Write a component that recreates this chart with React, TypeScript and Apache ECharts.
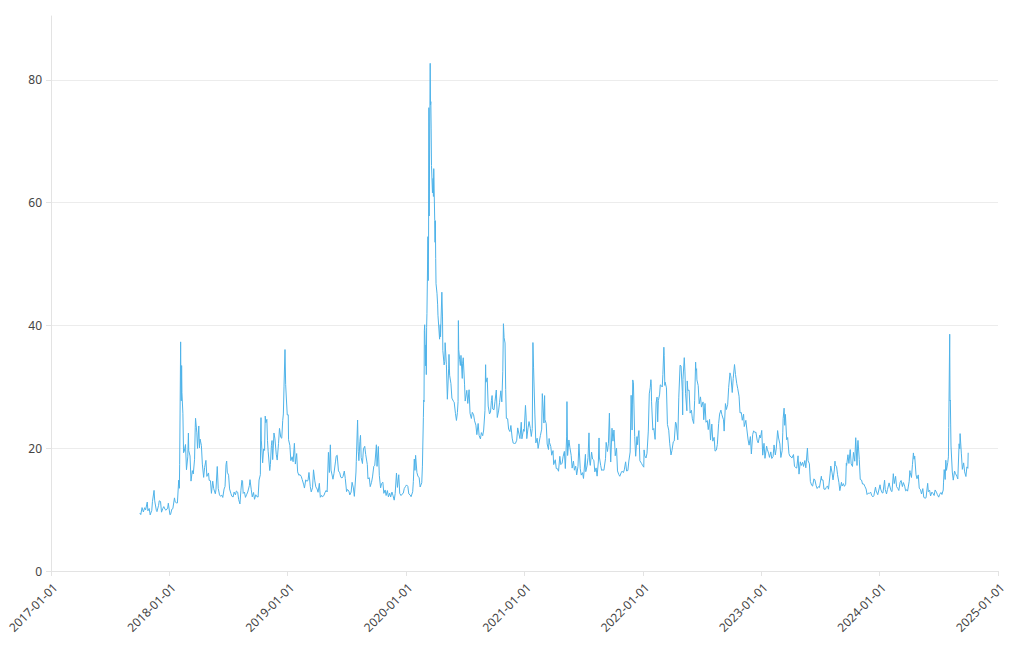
import React, { useEffect, useRef } from "react";
import * as echarts from "echarts";

type Pt = [string, number];

const vix2017: Pt[] = [
  ["2017-10-02", 9.45], ["2017-10-05", 9.19], ["2017-10-09", 10.33], ["2017-10-13", 9.61], ["2017-10-17", 10.31],
  ["2017-10-20", 9.97], ["2017-10-25", 11.23], ["2017-10-27", 9.8], ["2017-10-31", 10.18], ["2017-11-03", 9.14],
  ["2017-11-08", 9.89], ["2017-11-10", 11.29], ["2017-11-15", 13.13], ["2017-11-17", 11.43], ["2017-11-22", 9.88],
  ["2017-11-24", 9.67], ["2017-11-29", 10.7], ["2017-12-01", 11.43], ["2017-12-05", 11.33], ["2017-12-08", 9.58],
  ["2017-12-12", 10.18], ["2017-12-15", 10.49], ["2017-12-19", 10.03], ["2017-12-22", 9.9], ["2017-12-27", 10.25],
  ["2017-12-29", 11.04],
];

const vix2018: Pt[] = [
  ["2018-01-03", 9.15], ["2018-01-05", 9.22], ["2018-01-09", 10.08], ["2018-01-12", 10.16], ["2018-01-17", 11.91],
  ["2018-01-19", 11.27], ["2018-01-23", 11.1], ["2018-01-26", 11.08], ["2018-01-29", 13.84], ["2018-01-30", 14.79],
  ["2018-02-01", 13.47], ["2018-02-02", 17.31], ["2018-02-05", 37.32], ["2018-02-06", 29.98], ["2018-02-07", 27.73],
  ["2018-02-08", 33.46], ["2018-02-09", 29.06], ["2018-02-12", 25.61], ["2018-02-14", 19.26], ["2018-02-16", 19.46],
  ["2018-02-20", 20.6], ["2018-02-23", 16.49], ["2018-02-27", 18.59], ["2018-03-01", 22.47], ["2018-03-02", 19.59],
  ["2018-03-06", 18.73], ["2018-03-09", 14.64], ["2018-03-13", 16.35], ["2018-03-16", 15.8], ["2018-03-20", 18.2],
  ["2018-03-22", 23.34], ["2018-03-23", 24.87], ["2018-03-27", 22.5], ["2018-03-29", 19.97], ["2018-04-02", 23.62],
  ["2018-04-04", 20.06], ["2018-04-06", 21.49], ["2018-04-10", 20.47], ["2018-04-13", 17.41], ["2018-04-17", 15.25],
  ["2018-04-20", 16.88], ["2018-04-24", 18.02], ["2018-04-27", 15.41], ["2018-05-02", 15.97], ["2018-05-04", 14.77],
  ["2018-05-08", 14.71], ["2018-05-11", 12.65], ["2018-05-15", 14.63], ["2018-05-18", 13.42], ["2018-05-23", 12.58],
  ["2018-05-25", 13.22], ["2018-05-29", 17.02], ["2018-06-01", 13.46], ["2018-06-05", 12.4], ["2018-06-08", 12.18],
  ["2018-06-12", 12.35], ["2018-06-15", 11.98], ["2018-06-19", 13.35], ["2018-06-22", 13.77], ["2018-06-25", 17.33],
  ["2018-06-27", 17.91], ["2018-06-29", 16.09], ["2018-07-03", 15.6], ["2018-07-06", 13.37], ["2018-07-10", 12.64],
  ["2018-07-13", 12.18], ["2018-07-17", 12.06], ["2018-07-20", 12.86], ["2018-07-24", 12.41], ["2018-07-27", 13.03],
  ["2018-07-31", 12.83], ["2018-08-03", 11.64], ["2018-08-07", 10.93], ["2018-08-10", 13.16], ["2018-08-13", 14.78],
  ["2018-08-15", 14.64], ["2018-08-17", 12.64], ["2018-08-21", 12.86], ["2018-08-24", 11.99], ["2018-08-28", 12.5],
  ["2018-08-31", 12.86], ["2018-09-05", 13.91], ["2018-09-07", 14.88], ["2018-09-11", 13.22], ["2018-09-14", 12.07],
  ["2018-09-18", 12.79], ["2018-09-21", 11.68], ["2018-09-25", 12.42], ["2018-09-28", 12.12], ["2018-10-02", 12.05],
  ["2018-10-05", 14.82], ["2018-10-09", 15.69], ["2018-10-10", 22.96], ["2018-10-11", 24.98], ["2018-10-12", 21.31],
  ["2018-10-16", 17.62], ["2018-10-19", 19.89], ["2018-10-22", 19.64], ["2018-10-24", 25.23], ["2018-10-26", 24.16],
  ["2018-10-29", 24.7], ["2018-10-31", 21.23], ["2018-11-02", 19.51], ["2018-11-07", 16.36], ["2018-11-09", 17.36],
  ["2018-11-12", 20.45], ["2018-11-14", 21.25], ["2018-11-16", 18.14], ["2018-11-20", 22.48], ["2018-11-23", 21.52],
  ["2018-11-27", 19.02], ["2018-11-30", 18.07], ["2018-12-04", 20.74], ["2018-12-07", 23.23], ["2018-12-11", 21.76],
  ["2018-12-14", 21.63], ["2018-12-17", 24.52], ["2018-12-19", 25.58], ["2018-12-21", 30.11], ["2018-12-24", 36.07],
  ["2018-12-26", 30.41], ["2018-12-28", 28.34], ["2018-12-31", 25.42],
];

const vix2019: Pt[] = [
  ["2019-01-03", 25.45], ["2019-01-04", 21.38], ["2019-01-08", 20.47], ["2019-01-11", 17.97], ["2019-01-15", 18.6],
  ["2019-01-18", 17.8], ["2019-01-22", 20.8], ["2019-01-25", 17.42], ["2019-01-29", 19.13], ["2019-02-01", 16.14],
  ["2019-02-05", 15.57], ["2019-02-08", 15.72], ["2019-02-12", 15.43], ["2019-02-15", 14.91], ["2019-02-20", 14.02],
  ["2019-02-22", 13.51], ["2019-02-26", 14.85], ["2019-03-01", 14.63], ["2019-03-05", 14.74], ["2019-03-08", 16.05],
  ["2019-03-12", 13.77], ["2019-03-15", 12.88], ["2019-03-19", 13.56], ["2019-03-22", 16.48], ["2019-03-26", 14.68],
  ["2019-03-29", 13.71], ["2019-04-02", 13.36], ["2019-04-05", 12.82], ["2019-04-09", 14.28], ["2019-04-12", 12.01],
  ["2019-04-16", 12.32], ["2019-04-18", 12.09], ["2019-04-23", 12.28], ["2019-04-26", 12.73], ["2019-04-30", 13.12],
  ["2019-05-03", 12.87], ["2019-05-07", 19.32], ["2019-05-10", 16.04], ["2019-05-13", 20.55], ["2019-05-15", 16.44],
  ["2019-05-17", 15.96], ["2019-05-21", 14.95], ["2019-05-24", 15.85], ["2019-05-29", 17.9], ["2019-05-31", 18.71],
  ["2019-06-03", 18.86], ["2019-06-07", 16.3], ["2019-06-11", 15.99], ["2019-06-14", 15.28], ["2019-06-18", 15.15],
  ["2019-06-21", 15.4], ["2019-06-25", 16.28], ["2019-06-28", 15.08], ["2019-07-02", 12.93], ["2019-07-05", 13.28],
  ["2019-07-09", 13.03], ["2019-07-12", 12.39], ["2019-07-16", 12.86], ["2019-07-19", 14.45], ["2019-07-23", 13.53],
  ["2019-07-26", 12.16], ["2019-07-31", 16.12], ["2019-08-01", 17.87], ["2019-08-05", 24.59], ["2019-08-07", 19.49],
  ["2019-08-09", 17.97], ["2019-08-12", 21.09], ["2019-08-14", 22.1], ["2019-08-16", 18.47], ["2019-08-20", 17.5],
  ["2019-08-23", 19.87], ["2019-08-27", 20.31], ["2019-08-30", 18.98], ["2019-09-04", 17.33], ["2019-09-06", 15.0],
  ["2019-09-10", 15.2], ["2019-09-13", 13.74], ["2019-09-17", 14.44], ["2019-09-20", 15.32], ["2019-09-24", 17.05],
  ["2019-09-27", 17.22], ["2019-10-02", 20.56], ["2019-10-04", 17.04], ["2019-10-08", 20.28], ["2019-10-11", 15.58],
  ["2019-10-15", 13.54], ["2019-10-18", 14.25], ["2019-10-22", 14.46], ["2019-10-25", 12.65], ["2019-10-29", 13.2],
  ["2019-11-01", 12.3], ["2019-11-05", 13.1], ["2019-11-08", 12.07], ["2019-11-12", 12.68], ["2019-11-15", 12.05],
  ["2019-11-19", 12.86], ["2019-11-22", 12.34], ["2019-11-26", 11.54], ["2019-11-29", 12.62], ["2019-12-03", 15.96],
  ["2019-12-06", 13.62], ["2019-12-10", 15.68], ["2019-12-13", 12.63], ["2019-12-17", 12.29], ["2019-12-20", 12.51],
  ["2019-12-24", 12.67], ["2019-12-27", 13.43], ["2019-12-31", 13.78],
];

const vix2020: Pt[] = [
  ["2020-01-03", 14.02], ["2020-01-07", 13.79], ["2020-01-10", 12.56], ["2020-01-14", 12.39], ["2020-01-17", 12.1],
  ["2020-01-22", 12.91], ["2020-01-24", 14.56], ["2020-01-27", 18.23], ["2020-01-29", 16.39], ["2020-01-31", 18.84],
  ["2020-02-04", 16.05], ["2020-02-07", 15.47], ["2020-02-11", 15.18], ["2020-02-14", 13.68], ["2020-02-19", 14.38],
  ["2020-02-21", 17.08], ["2020-02-24", 25.03], ["2020-02-25", 27.85], ["2020-02-26", 27.56], ["2020-02-27", 39.16],
  ["2020-02-28", 40.11], ["2020-03-02", 33.42], ["2020-03-03", 36.82], ["2020-03-04", 31.99], ["2020-03-05", 39.62],
  ["2020-03-06", 41.94], ["2020-03-09", 54.46], ["2020-03-10", 47.3], ["2020-03-11", 53.9], ["2020-03-12", 75.47],
  ["2020-03-13", 57.83], ["2020-03-16", 82.69], ["2020-03-17", 75.91], ["2020-03-18", 76.45], ["2020-03-19", 72.0],
  ["2020-03-20", 66.04], ["2020-03-23", 61.59], ["2020-03-24", 61.67], ["2020-03-25", 63.95], ["2020-03-26", 61.0],
  ["2020-03-27", 65.54], ["2020-03-30", 57.08], ["2020-03-31", 53.54], ["2020-04-01", 57.06], ["2020-04-02", 50.91],
  ["2020-04-03", 46.8], ["2020-04-06", 45.24], ["2020-04-08", 43.35], ["2020-04-09", 41.67], ["2020-04-14", 37.76],
  ["2020-04-16", 40.11], ["2020-04-17", 38.15], ["2020-04-21", 45.41], ["2020-04-23", 41.38], ["2020-04-24", 35.93],
  ["2020-04-28", 33.57], ["2020-04-30", 34.15], ["2020-05-01", 37.19], ["2020-05-05", 33.61], ["2020-05-08", 27.98],
  ["2020-05-12", 33.04], ["2020-05-13", 35.28], ["2020-05-15", 31.89], ["2020-05-19", 30.53], ["2020-05-22", 28.16],
  ["2020-05-27", 27.62], ["2020-05-29", 27.51], ["2020-06-02", 25.66], ["2020-06-05", 24.52], ["2020-06-08", 25.81],
  ["2020-06-10", 27.57], ["2020-06-11", 40.79], ["2020-06-12", 36.09], ["2020-06-15", 34.4], ["2020-06-17", 33.47],
  ["2020-06-19", 35.12], ["2020-06-23", 31.37], ["2020-06-24", 33.84], ["2020-06-26", 34.73], ["2020-06-30", 30.43],
  ["2020-07-02", 27.68], ["2020-07-07", 29.43], ["2020-07-10", 27.29], ["2020-07-14", 29.52], ["2020-07-17", 25.68],
  ["2020-07-21", 24.84], ["2020-07-24", 25.84], ["2020-07-28", 25.44], ["2020-07-31", 24.46], ["2020-08-04", 23.76],
  ["2020-08-07", 22.21], ["2020-08-11", 24.03], ["2020-08-14", 22.05], ["2020-08-18", 21.51], ["2020-08-21", 22.54],
  ["2020-08-25", 22.03], ["2020-08-28", 22.96], ["2020-09-01", 26.12], ["2020-09-03", 33.6], ["2020-09-04", 30.75],
  ["2020-09-08", 31.46], ["2020-09-11", 26.87], ["2020-09-15", 25.59], ["2020-09-18", 25.83], ["2020-09-21", 27.78],
  ["2020-09-23", 28.58], ["2020-09-25", 26.38], ["2020-09-29", 26.27], ["2020-10-02", 27.63], ["2020-10-06", 29.48],
  ["2020-10-09", 25.0], ["2020-10-13", 26.07], ["2020-10-16", 27.41], ["2020-10-20", 29.35], ["2020-10-23", 27.55],
  ["2020-10-26", 32.46], ["2020-10-28", 40.28], ["2020-10-30", 38.02], ["2020-11-02", 37.13], ["2020-11-04", 29.57],
  ["2020-11-06", 24.86], ["2020-11-10", 24.8], ["2020-11-13", 23.1], ["2020-11-17", 22.71], ["2020-11-20", 23.7],
  ["2020-11-24", 21.64], ["2020-11-27", 20.84], ["2020-12-01", 20.77], ["2020-12-04", 20.79], ["2020-12-08", 21.3],
  ["2020-12-11", 23.31], ["2020-12-15", 22.29], ["2020-12-18", 21.57], ["2020-12-22", 24.23], ["2020-12-24", 21.53],
  ["2020-12-29", 23.08], ["2020-12-31", 22.75],
];

const vix2021: Pt[] = [
  ["2021-01-04", 26.97], ["2021-01-06", 25.07], ["2021-01-08", 21.56], ["2021-01-12", 23.33], ["2021-01-15", 24.34],
  ["2021-01-19", 23.24], ["2021-01-22", 21.91], ["2021-01-25", 23.19], ["2021-01-27", 37.21], ["2021-01-29", 33.09],
  ["2021-02-02", 25.56], ["2021-02-05", 20.87], ["2021-02-09", 21.63], ["2021-02-12", 19.97], ["2021-02-17", 21.5],
  ["2021-02-19", 22.05], ["2021-02-23", 23.11], ["2021-02-25", 28.89], ["2021-02-26", 27.95], ["2021-03-02", 24.1],
  ["2021-03-04", 28.57], ["2021-03-05", 24.66], ["2021-03-09", 24.03], ["2021-03-12", 20.69], ["2021-03-16", 19.79],
  ["2021-03-18", 21.58], ["2021-03-19", 20.95], ["2021-03-23", 20.3], ["2021-03-26", 18.86], ["2021-03-30", 19.61],
  ["2021-04-01", 17.33], ["2021-04-06", 18.12], ["2021-04-09", 16.69], ["2021-04-13", 16.65], ["2021-04-16", 16.25],
  ["2021-04-20", 18.68], ["2021-04-23", 17.33], ["2021-04-27", 17.56], ["2021-04-30", 18.61], ["2021-05-04", 19.48],
  ["2021-05-07", 16.69], ["2021-05-11", 21.84], ["2021-05-12", 27.59], ["2021-05-14", 18.81], ["2021-05-18", 21.34],
  ["2021-05-21", 20.15], ["2021-05-25", 18.84], ["2021-05-28", 16.76], ["2021-06-01", 17.9], ["2021-06-04", 16.42],
  ["2021-06-08", 17.07], ["2021-06-11", 15.65], ["2021-06-15", 17.02], ["2021-06-18", 20.7], ["2021-06-22", 16.66],
  ["2021-06-25", 15.62], ["2021-06-29", 16.02], ["2021-07-02", 15.07], ["2021-07-08", 19.0], ["2021-07-09", 16.18],
  ["2021-07-13", 17.12], ["2021-07-16", 18.45], ["2021-07-19", 22.5], ["2021-07-21", 17.91], ["2021-07-23", 17.2],
  ["2021-07-27", 19.36], ["2021-07-30", 18.24], ["2021-08-03", 18.04], ["2021-08-06", 16.15], ["2021-08-10", 16.79],
  ["2021-08-13", 15.45], ["2021-08-17", 17.91], ["2021-08-19", 21.67], ["2021-08-20", 18.56], ["2021-08-24", 17.22],
  ["2021-08-27", 16.39], ["2021-08-31", 16.48], ["2021-09-03", 16.41], ["2021-09-08", 18.31], ["2021-09-10", 20.95],
  ["2021-09-14", 19.46], ["2021-09-17", 20.81], ["2021-09-20", 25.71], ["2021-09-22", 20.87], ["2021-09-24", 17.75],
  ["2021-09-28", 23.25], ["2021-10-01", 21.15], ["2021-10-04", 22.96], ["2021-10-06", 21.0], ["2021-10-08", 18.77],
  ["2021-10-12", 20.0], ["2021-10-15", 16.3], ["2021-10-19", 15.7], ["2021-10-22", 15.43], ["2021-10-26", 15.98],
  ["2021-10-29", 16.26], ["2021-11-02", 16.03], ["2021-11-05", 16.48], ["2021-11-09", 17.78], ["2021-11-12", 16.29],
  ["2021-11-16", 16.37], ["2021-11-19", 17.91], ["2021-11-23", 19.38], ["2021-11-26", 28.62], ["2021-11-29", 22.96],
  ["2021-11-30", 27.19], ["2021-12-01", 31.12], ["2021-12-03", 30.67], ["2021-12-07", 21.89], ["2021-12-10", 18.69],
  ["2021-12-14", 21.89], ["2021-12-16", 20.57], ["2021-12-17", 21.57], ["2021-12-20", 22.87], ["2021-12-23", 17.96],
  ["2021-12-28", 17.54], ["2021-12-31", 17.22],
];

const vix2022: Pt[] = [
  ["2022-01-04", 16.91], ["2022-01-05", 19.73], ["2022-01-07", 18.76], ["2022-01-11", 18.41], ["2022-01-14", 19.19],
  ["2022-01-18", 22.79], ["2022-01-21", 28.85], ["2022-01-24", 29.9], ["2022-01-26", 31.16], ["2022-01-27", 30.49],
  ["2022-01-28", 27.66], ["2022-02-01", 22.96], ["2022-02-04", 23.22], ["2022-02-08", 21.44], ["2022-02-11", 27.36],
  ["2022-02-14", 28.33], ["2022-02-16", 24.29], ["2022-02-18", 27.75], ["2022-02-22", 28.81], ["2022-02-24", 30.32],
  ["2022-02-28", 30.15], ["2022-03-02", 29.98], ["2022-03-04", 31.98], ["2022-03-07", 36.45], ["2022-03-08", 35.13],
  ["2022-03-10", 30.23], ["2022-03-11", 30.75], ["2022-03-15", 29.83], ["2022-03-18", 23.87], ["2022-03-22", 22.94],
  ["2022-03-25", 20.81], ["2022-03-29", 18.9], ["2022-04-01", 19.63], ["2022-04-05", 21.03], ["2022-04-08", 21.16],
  ["2022-04-12", 24.26], ["2022-04-14", 24.05], ["2022-04-19", 21.37], ["2022-04-22", 28.21], ["2022-04-26", 33.52],
  ["2022-04-29", 33.4], ["2022-05-03", 29.25], ["2022-05-04", 25.42], ["2022-05-05", 31.2], ["2022-05-09", 34.75],
  ["2022-05-11", 32.56], ["2022-05-13", 28.87], ["2022-05-17", 26.1], ["2022-05-18", 30.96], ["2022-05-20", 29.43],
  ["2022-05-24", 29.45], ["2022-05-27", 25.72], ["2022-05-31", 26.19], ["2022-06-03", 24.79], ["2022-06-07", 24.02],
  ["2022-06-10", 27.75], ["2022-06-13", 34.02], ["2022-06-14", 32.69], ["2022-06-16", 32.95], ["2022-06-17", 31.13],
  ["2022-06-21", 30.19], ["2022-06-24", 27.23], ["2022-06-28", 28.36], ["2022-07-01", 26.7], ["2022-07-06", 27.54],
  ["2022-07-08", 24.64], ["2022-07-12", 27.29], ["2022-07-15", 24.23], ["2022-07-19", 24.5], ["2022-07-22", 23.03],
  ["2022-07-26", 24.69], ["2022-07-29", 21.33], ["2022-08-02", 23.93], ["2022-08-05", 21.15], ["2022-08-09", 21.77],
  ["2022-08-12", 19.53], ["2022-08-16", 19.69], ["2022-08-19", 20.6], ["2022-08-23", 24.0], ["2022-08-26", 25.56],
  ["2022-08-30", 26.21], ["2022-09-02", 25.47], ["2022-09-07", 24.64], ["2022-09-09", 22.79], ["2022-09-13", 27.27],
  ["2022-09-16", 26.3], ["2022-09-20", 27.16], ["2022-09-23", 29.92], ["2022-09-27", 32.27], ["2022-09-29", 31.84],
  ["2022-09-30", 31.62], ["2022-10-04", 29.07], ["2022-10-07", 31.36], ["2022-10-11", 33.63], ["2022-10-12", 33.57],
  ["2022-10-14", 32.02], ["2022-10-18", 30.5], ["2022-10-21", 29.69], ["2022-10-25", 28.46], ["2022-10-28", 25.75],
  ["2022-11-01", 25.81], ["2022-11-04", 24.55], ["2022-11-08", 25.54], ["2022-11-10", 23.53], ["2022-11-15", 24.54],
  ["2022-11-18", 23.12], ["2022-11-22", 21.35], ["2022-11-25", 20.5], ["2022-11-29", 21.89], ["2022-12-02", 19.06],
  ["2022-12-06", 22.21], ["2022-12-09", 22.83], ["2022-12-13", 22.55], ["2022-12-16", 22.62], ["2022-12-20", 21.29],
  ["2022-12-23", 20.87], ["2022-12-28", 22.14], ["2022-12-30", 21.67],
];

const vix2023: Pt[] = [
  ["2023-01-03", 22.9], ["2023-01-06", 18.87], ["2023-01-10", 20.8], ["2023-01-13", 18.35], ["2023-01-18", 20.34],
  ["2023-01-20", 19.85], ["2023-01-24", 19.2], ["2023-01-27", 18.51], ["2023-01-31", 19.4], ["2023-02-03", 18.33],
  ["2023-02-07", 18.66], ["2023-02-10", 20.53], ["2023-02-14", 18.91], ["2023-02-17", 20.02], ["2023-02-21", 22.87],
  ["2023-02-24", 21.67], ["2023-02-28", 20.7], ["2023-03-03", 18.49], ["2023-03-07", 19.59], ["2023-03-09", 22.61],
  ["2023-03-10", 24.8], ["2023-03-13", 26.52], ["2023-03-15", 23.73], ["2023-03-17", 25.51], ["2023-03-21", 21.38],
  ["2023-03-24", 21.74], ["2023-03-28", 19.12], ["2023-03-31", 18.7], ["2023-04-04", 18.58], ["2023-04-06", 18.4],
  ["2023-04-11", 18.97], ["2023-04-14", 17.07], ["2023-04-18", 16.83], ["2023-04-21", 16.77], ["2023-04-25", 18.76],
  ["2023-04-28", 15.78], ["2023-05-02", 17.78], ["2023-05-05", 17.19], ["2023-05-09", 17.71], ["2023-05-12", 17.03],
  ["2023-05-16", 17.99], ["2023-05-19", 16.81], ["2023-05-24", 20.03], ["2023-05-26", 17.95], ["2023-05-30", 17.46],
  ["2023-06-02", 14.6], ["2023-06-06", 13.96], ["2023-06-09", 13.83], ["2023-06-13", 15.01], ["2023-06-16", 14.84],
  ["2023-06-20", 13.88], ["2023-06-23", 13.44], ["2023-06-27", 13.74], ["2023-06-30", 13.59], ["2023-07-06", 15.44],
  ["2023-07-07", 14.83], ["2023-07-11", 14.84], ["2023-07-14", 13.34], ["2023-07-18", 13.3], ["2023-07-21", 13.6],
  ["2023-07-25", 13.86], ["2023-07-28", 13.33], ["2023-08-02", 15.82], ["2023-08-04", 17.1], ["2023-08-08", 15.99],
  ["2023-08-11", 14.84], ["2023-08-15", 16.46], ["2023-08-17", 17.89], ["2023-08-18", 17.3], ["2023-08-22", 16.97],
  ["2023-08-25", 15.68], ["2023-08-29", 14.45], ["2023-09-01", 13.09], ["2023-09-06", 14.45], ["2023-09-08", 13.84],
  ["2023-09-12", 14.23], ["2023-09-15", 13.79], ["2023-09-19", 14.11], ["2023-09-21", 17.54], ["2023-09-22", 17.2],
  ["2023-09-26", 18.94], ["2023-09-29", 17.52], ["2023-10-03", 19.78], ["2023-10-06", 17.45], ["2023-10-10", 17.03],
  ["2023-10-13", 19.32], ["2023-10-17", 17.88], ["2023-10-20", 21.71], ["2023-10-24", 17.19], ["2023-10-26", 20.68],
  ["2023-10-27", 21.27], ["2023-10-31", 18.14], ["2023-11-03", 14.91], ["2023-11-07", 14.81], ["2023-11-10", 14.17],
  ["2023-11-14", 14.16], ["2023-11-17", 13.8], ["2023-11-21", 13.35], ["2023-11-24", 12.46], ["2023-11-28", 12.69],
  ["2023-12-01", 12.63], ["2023-12-05", 12.85], ["2023-12-08", 12.35], ["2023-12-12", 12.07], ["2023-12-15", 12.28],
  ["2023-12-20", 13.67], ["2023-12-22", 13.03], ["2023-12-27", 12.43], ["2023-12-29", 12.45],
];

const vix2024: Pt[] = [
  ["2024-01-03", 14.04], ["2024-01-05", 13.35], ["2024-01-09", 12.76], ["2024-01-12", 12.7], ["2024-01-17", 14.79],
  ["2024-01-19", 13.3], ["2024-01-23", 12.55], ["2024-01-26", 13.26], ["2024-01-31", 14.35], ["2024-02-02", 13.85],
  ["2024-02-06", 13.06], ["2024-02-09", 12.93], ["2024-02-13", 15.85], ["2024-02-16", 14.24], ["2024-02-20", 15.42],
  ["2024-02-23", 13.75], ["2024-02-27", 13.43], ["2024-03-01", 13.11], ["2024-03-05", 14.46], ["2024-03-08", 14.74],
  ["2024-03-12", 13.75], ["2024-03-15", 14.41], ["2024-03-19", 13.82], ["2024-03-22", 13.06], ["2024-03-26", 13.24],
  ["2024-03-28", 13.01], ["2024-04-02", 14.61], ["2024-04-04", 16.35], ["2024-04-05", 16.03], ["2024-04-09", 15.23],
  ["2024-04-12", 17.31], ["2024-04-15", 19.23], ["2024-04-17", 18.21], ["2024-04-19", 18.71], ["2024-04-23", 15.69],
  ["2024-04-26", 15.03], ["2024-04-30", 15.65], ["2024-05-03", 13.49], ["2024-05-07", 13.23], ["2024-05-10", 12.55],
  ["2024-05-14", 13.42], ["2024-05-17", 11.99], ["2024-05-21", 11.86], ["2024-05-24", 11.93], ["2024-05-29", 14.28],
  ["2024-05-31", 12.92], ["2024-06-04", 13.16], ["2024-06-07", 12.22], ["2024-06-11", 12.85], ["2024-06-14", 12.66],
  ["2024-06-18", 12.3], ["2024-06-21", 13.2], ["2024-06-25", 12.84], ["2024-06-28", 12.44], ["2024-07-02", 12.03],
  ["2024-07-05", 12.48], ["2024-07-09", 12.79], ["2024-07-12", 12.46], ["2024-07-16", 13.19], ["2024-07-17", 14.48],
  ["2024-07-19", 16.52], ["2024-07-22", 14.91], ["2024-07-24", 18.04], ["2024-07-26", 16.39], ["2024-07-30", 17.69],
  ["2024-08-01", 18.59], ["2024-08-02", 23.39], ["2024-08-05", 38.57], ["2024-08-06", 27.71], ["2024-08-07", 27.85],
  ["2024-08-08", 23.79], ["2024-08-09", 20.37], ["2024-08-13", 16.12], ["2024-08-16", 14.8], ["2024-08-20", 16.27],
  ["2024-08-23", 15.86], ["2024-08-27", 15.43], ["2024-08-30", 15.0], ["2024-09-03", 20.72], ["2024-09-05", 19.9],
  ["2024-09-06", 22.38], ["2024-09-10", 19.08], ["2024-09-13", 16.56], ["2024-09-17", 17.61], ["2024-09-20", 16.15],
  ["2024-09-24", 15.39], ["2024-09-27", 16.96], ["2024-09-30", 16.73], ["2024-10-01", 19.26],
];

const xMin = "2017-01-01";
const xMax = "2025-01-01";
const yMin = 0;
const yMax = 90.4;
const yStep = 20;

const GRID_COLOR = "#ececec";
const AXIS_COLOR = "#e3e3e3";
const LABEL_COLOR = "#444";
const LINE_COLOR = "#4fb3e9";

export default function App() {
  const ref = useRef<HTMLDivElement>(null);

  useEffect(() => {
    if (!ref.current) return;
    const chart = echarts.init(ref.current, undefined, { renderer: "svg" });
    const data = [...vix2017, ...vix2018, ...vix2019, ...vix2020, ...vix2021, ...vix2022, ...vix2023, ...vix2024];
    const DAY = 86400000;
    chart.setOption({
      animation: false,
      textStyle: { fontFamily: "Noto Sans" },
      grid: { left: 51, right: 22, top: 16, bottom: 79, containLabel: false },
      xAxis: {
        type: "time",
        min: xMin,
        max: xMax,
        splitNumber: 8,
        minInterval: 365 * DAY,
        maxInterval: 366 * DAY,
        axisLine: { show: true, lineStyle: { color: AXIS_COLOR } },
        axisTick: { show: true, lineStyle: { color: AXIS_COLOR } },
        minorTick: { show: false },
        splitLine: { show: false },
        axisLabel: {
          rotate: 45,
          color: LABEL_COLOR,
          fontSize: 12,
          fontFamily: "Noto Sans",
          formatter: "{yyyy}-{MM}-{dd}",
          verticalAlign: "top",
          margin: 10,
          showMinLabel: true,
          showMaxLabel: true,
          hideOverlap: false,
        },
      },
      yAxis: {
        type: "value",
        min: yMin,
        max: yMax,
        interval: yStep,
        axisLine: { show: true, lineStyle: { color: AXIS_COLOR } },
        axisTick: { show: true, lineStyle: { color: AXIS_COLOR } },
        splitLine: { show: true, showMaxLine: false, lineStyle: { color: GRID_COLOR } },
        axisLabel: {
          color: LABEL_COLOR,
          fontSize: 12,
          fontFamily: "Noto Sans",
          showMaxLabel: false,
          margin: 9,
        },
      },
      series: [
        {
          type: "line",
          data,
          showSymbol: false,
          symbol: "none",
          lineStyle: { color: LINE_COLOR, width: 1 },
          itemStyle: { color: LINE_COLOR },
        },
      ],
    });
    return () => chart.dispose();
  }, []);

  return (
    <div
      ref={ref}
      style={{ position: "absolute", left: 0, top: 0, width: 1020, height: 650 }}
    />
  );
}
